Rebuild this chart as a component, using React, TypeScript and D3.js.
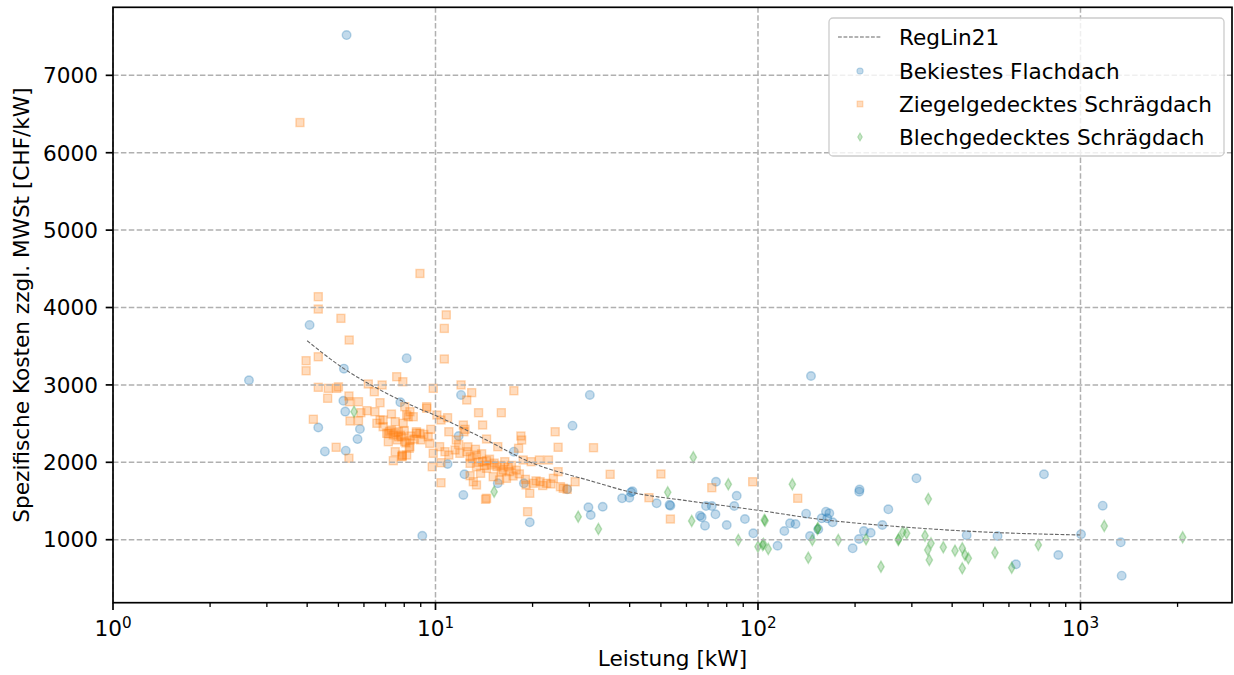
import React from "react";
import * as d3 from "d3";

// ---- Data ----
const seriesNames = ["RegLin21", "Bekiestes Flachdach", "Ziegelgedecktes Schrägdach", "Blechgedecktes Schrägdach"];

const bekiestesFlachdach: [number, number][] = [
  [5.3, 7520], [2.64, 3060], [4.07, 3775], [4.33, 2450], [4.54, 2140], [5.2, 3210], [5.18, 2795], [5.25, 2655],
  [5.27, 2150], [5.83, 2430], [5.73, 2300], [8.14, 3345], [7.78, 2775], [9.1, 1050], [12.0, 2870], [11.8, 2340],
  [12.3, 1845], [12.2, 1578], [10.9, 1978], [15.6, 1730], [17.5, 2137], [18.8, 1729], [19.6, 1225], [26.6, 2473],
  [25.6, 1651], [30.1, 2870], [29.8, 1419], [30.3, 1319], [33.0, 1426], [37.9, 1535], [39.9, 1543], [40.4, 1612],
  [40.8, 1625], [48.5, 1470], [53.5, 1439], [53.2, 1450], [66.1, 1310], [66.9, 1289], [68.5, 1181], [69.0, 1435],
  [71.9, 1435], [73.8, 1328], [74.1, 1749], [80.0, 1190], [84.4, 1435], [85.9, 1568], [91.1, 1267], [96.7, 1083],
  [115, 922], [120.7, 1112], [125.7, 1212], [130.7, 1203], [141, 1336], [145, 1048], [146, 3115], [157.6, 1276],
  [162.5, 1362], [166.4, 1341], [164, 1276], [170.4, 1225], [153.8, 1134], [196.6, 889], [206, 1620], [206.5, 1648],
  [205.7, 1009], [213, 1112], [223.6, 1090], [243, 1190], [253.6, 1393], [310, 1793], [443.7, 1058], [553, 1048],
  [631, 682], [770.6, 1845], [853.5, 802], [1004, 1070], [1172, 1439], [1333, 966], [1342, 535],
];

const ziegelSchraegdach: [number, number][] = [
  [3.8, 6390], [8.95, 4440], [4.33, 4140], [4.33, 3980], [5.09, 3860], [5.4, 3580], [10.8, 3905], [10.65, 3730],
  [10.65, 3335], [3.97, 3313], [3.97, 3183], [4.33, 3364], [4.33, 2969], [4.65, 2956], [4.63, 2827], [4.94, 2956],
  [5.0, 2975], [4.18, 2556], [4.92, 2194], [5.39, 2052], [5.39, 2857], [5.41, 2783], [5.77, 2783], [5.43, 2534],
  [5.77, 2537], [5.87, 2641], [6.13, 2667], [6.19, 3012], [6.46, 2912], [6.83, 2999], [6.73, 2770], [6.49, 2654],
  [6.58, 2504], [6.88, 2547], [7.58, 3106], [7.92, 3041], [7.4, 2021], [7.89, 2094], [7.14, 2266],
  [9.84, 2956], [12.0, 3000], [12.95, 2900], [12.5, 2805], [17.5, 2925], [7.3, 2624], [8.03, 2718], [8.14, 2611],
  [8.53, 2589], [8.33, 2654], [9.39, 2718], [10.1, 2611], [10.4, 2547], [11.0, 2395], [12.2, 2482], [12.25, 2395],
  [13.6, 2641], [16.0, 2641],
  [7.14, 2375], [7.4, 2353], [7.67, 2395], [7.86, 2330], [8.33, 2288], [8.73, 2395], [8.95, 2375], [9.49, 2330],
  [9.6, 2245], [8.14, 2094], [7.86, 2072], [9.84, 2116], [10.3, 2202], [10.7, 2137], [11.0, 2094], [11.5, 2159],
  [11.9, 2116], [12.5, 2137], [12.8, 2072], [13.4, 2094], [14.0, 2008], [14.9, 1965], [15.5, 1943], [13.4, 1943],
  [12.8, 1987], [14.4, 1922], [16.2, 1900], [17.0, 1879], [17.8, 1900], [13.8, 1858], [13.1, 1749], [13.4, 1707],
  [15.8, 1771], [16.6, 1793], [10.4, 1736], [14.4, 1535], [9.77, 1943],
  [14.0, 2482], [14.4, 2301], [15.6, 2202], [18.4, 2340], [18.5, 2288], [18.1, 2181], [23.5, 2395], [24.0, 2194],
  [30.9, 2189], [21.0, 2030], [22.4, 2030], [34.8, 1845], [50.0, 1849], [45.9, 1543], [53.5, 1267], [71.9, 1672],
  [96.3, 1749], [132.8, 1535], [27.1, 1749], [19.3, 1362], [19.6, 1600], [14.3, 1522], [9.67, 2426], [9.39, 2698],
  [10.9, 2576], [12.35, 2426], [11.6, 2288], [13.3, 2168], [14.4, 2021], [12.8, 1827], [15.1, 1814], [17.4, 1823],
  [20.1, 1729], [21.1, 1749], [22.1, 1729], [23.2, 1793], [24.4, 1685], [24.9, 1664], [24.0, 1879], [19.1, 1707],
  [18.7, 2030], [19.8, 2008], [16.0, 1879], [16.4, 2008], [10.4, 1995], [25.6, 1651],
  [7.06, 2375], [7.3, 2417], [7.67, 2331], [8.03, 2266], [8.33, 2202], [8.73, 2375], [8.23, 2589], [7.94, 2504],
  [7.5, 2525], [6.73, 2547], [6.88, 2460], [7.5, 2137], [7.89, 2081], [8.29, 2181],
  [7.2, 2400], [7.5, 2380], [7.8, 2350], [8.0, 2410], [8.4, 2340], [8.6, 2300], [9.0, 2290], [9.2, 2360],
  [7.6, 2290], [8.1, 2250], [13.0, 2050], [13.6, 2000], [14.2, 1960], [14.7, 2040], [15.2, 1990], [15.9, 1960],
  [16.8, 1940], [13.9, 2110], [12.6, 2200], [11.8, 2230], [19.0, 1780], [20.5, 1760], [21.5, 1700], [22.8, 1720],
  [18.2, 1850], [17.2, 1960],
];

const blechSchraegdach: [number, number][] = [
  [5.59, 2654], [15.2, 1620], [27.7, 1297], [32.0, 1138], [63.0, 2065], [52.5, 1612], [62.3, 1242], [80.9, 1716],
  [86.9, 996], [104.6, 1255], [105.2, 1245], [103.4, 932], [104, 945], [100, 910], [107.6, 880], [127.8, 1716],
  [143.2, 767], [147.4, 996], [152.8, 1138], [153.5, 1150], [177.4, 996], [216.3, 1005], [240.6, 651], [272.3, 996],
  [273, 1010], [281, 1096], [289, 1083], [329.5, 1052], [337.4, 1526], [344, 953], [336, 867], [339.8, 738],
  [375.5, 902], [408.2, 858], [430, 889], [430, 630], [438.5, 802], [449, 760], [543, 832], [612, 638],
  [740, 932], [1185, 1177], [2074, 1031],
];

const regLin21: [number, number][] = [
  [4.0, 3570], [5.2, 3210], [6.7, 2940], [8.7, 2710], [10, 2605], [13.7, 2333], [20, 1990], [30, 1765],
  [41, 1608], [60, 1505], [100, 1380], [155, 1265], [275, 1168], [500, 1100], [1000, 1061],
];

const yTicks = [1000, 2000, 3000, 4000, 5000, 6000, 7000];
const xMajorExp = [0, 1, 2, 3];

// ---- Layout ----
const W = 1234, H = 675;
const L = 113, R = 1232, T = 7.3, B = 602.7;
const FONT = "DejaVu Sans, Verdana, sans-serif";
const FS = 21.6;

const BLUE = "#1f77b4", ORANGE = "#ff7f0e", GREEN = "#2ca02c";

const x = d3.scaleLog().domain([1, 2950]).range([L, R]);
const y = d3.scaleLinear().domain([186, 7879]).range([B, T]);

function Circle({ cx, cy, s = 1 }: { cx: number; cy: number; s?: number }) {
  return <circle cx={cx} cy={cy} r={4.3 * s} fill={BLUE} fillOpacity={0.27} stroke={BLUE} strokeOpacity={0.3} strokeWidth={1.4 * s} />;
}
function Square({ cx, cy, s = 1 }: { cx: number; cy: number; s?: number }) {
  const h = 4 * s;
  return <rect x={cx - h} y={cy - h} width={2 * h} height={2 * h} fill={ORANGE} fillOpacity={0.27} stroke={ORANGE} strokeOpacity={0.3} strokeWidth={1.4 * s} />;
}
function Diamond({ cx, cy, s = 1 }: { cx: number; cy: number; s?: number }) {
  const w = 3.2 * s, h = 5.6 * s;
  return <path d={`M${cx},${cy - h}L${cx + w},${cy}L${cx},${cy + h}L${cx - w},${cy}Z`} fill={GREEN} fillOpacity={0.27} stroke={GREEN} strokeOpacity={0.3} strokeWidth={1.4 * s} />;
}

export default function App() {
  const minorTicks: number[] = [];
  for (let e = 0; e <= 3; e++) for (let m = 2; m <= 9; m++) {
    const v = m * Math.pow(10, e);
    if (v <= 2950) minorTicks.push(v);
  }
  const lineGen = d3.line<[number, number]>().x(d => x(d[0])).y(d => y(d[1])).curve(d3.curveMonotoneX);

  const legX = 829, legY = 18, legW = 395, legH = 138;
  const rowY = [37, 71, 104, 137];

  return (
    <svg width={W} height={H} style={{ position: "absolute", left: 0, top: 0, background: "#fff" }} fontFamily={FONT}>
      <rect x={0} y={0} width={W} height={H} fill="#fff" />
      {/* scatter */}
      <g>
        {bekiestesFlachdach.map((d, i) => <Circle key={"b" + i} cx={x(d[0])} cy={y(d[1])} />)}
        {ziegelSchraegdach.map((d, i) => <Square key={"o" + i} cx={x(d[0])} cy={y(d[1])} />)}
        {blechSchraegdach.map((d, i) => <Diamond key={"g" + i} cx={x(d[0])} cy={y(d[1])} />)}
      </g>
      {/* grid */}
      <g stroke="#b0b0b0" strokeWidth={1.5} strokeDasharray="5.5,2.4">
        {yTicks.map(t => <line key={"gy" + t} x1={L} x2={R} y1={y(t)} y2={y(t)} />)}
        {xMajorExp.map(e => <line key={"gx" + e} x1={x(Math.pow(10, e))} x2={x(Math.pow(10, e))} y1={T} y2={B} />)}
      </g>
      {/* regression line */}
      <path d={lineGen(regLin21) || ""} fill="none" stroke="#666" strokeWidth={1.1} strokeDasharray="3.8,1.7" />
      {/* spines */}
      <rect x={L} y={T} width={R - L} height={B - T} fill="none" stroke="#000" strokeWidth={1.7} />
      {/* y axis */}
      {yTicks.map(t => (
        <g key={"yt" + t}>
          <line x1={L - 7.3} x2={L} y1={y(t)} y2={y(t)} stroke="#000" strokeWidth={1.7} />
          <text x={L - 15} y={y(t)} dy="0.36em" textAnchor="end" fontSize={FS} fill="#000">{t}</text>
        </g>
      ))}
      {/* x axis */}
      {minorTicks.map(v => (
        <line key={"mx" + v} x1={x(v)} x2={x(v)} y1={B} y2={B + 4.2} stroke="#000" strokeWidth={1.3} />
      ))}
      {xMajorExp.map(e => (
        <g key={"xt" + e}>
          <line x1={x(Math.pow(10, e))} x2={x(Math.pow(10, e))} y1={B} y2={B + 7.3} stroke="#000" strokeWidth={1.7} />
          <text x={x(Math.pow(10, e))} y={636} textAnchor="middle" fontSize={FS} fill="#000">
            <tspan>10</tspan>
            <tspan dy={-8.5} fontSize={15.2}>{e}</tspan>
          </text>
        </g>
      ))}
      <text x={(L + R) / 2} y={666} textAnchor="middle" fontSize={FS} fill="#000">Leistung [kW]</text>
      <text transform={`translate(29,${(T + B) / 2}) rotate(-90)`} textAnchor="middle" fontSize={FS} fill="#000">
        Spezifische Kosten zzgl. MWSt [CHF/kW]
      </text>
      {/* legend */}
      <g>
        <rect x={legX} y={legY} width={legW} height={legH} rx={4} fill="#fff" fillOpacity={0.8} stroke="#cccccc" strokeWidth={1.3} />
        <line x1={838} x2={881} y1={rowY[0]} y2={rowY[0]} stroke="#666" strokeWidth={1.1} strokeDasharray="3.8,1.7" />
        <Circle cx={860} cy={rowY[1]} s={0.72} />
        <Square cx={860} cy={rowY[2]} s={0.72} />
        <Diamond cx={860} cy={rowY[3]} s={0.72} />
        {seriesNames.map((n, i) => (
          <text key={n} x={899} y={rowY[i]} dy="0.36em" fontSize={FS} fill="#000">{n}</text>
        ))}
      </g>
    </svg>
  );
}
